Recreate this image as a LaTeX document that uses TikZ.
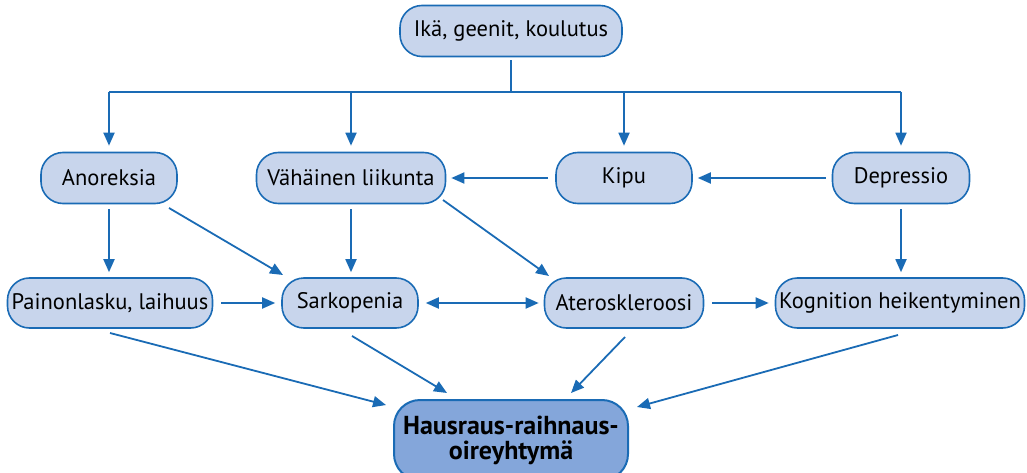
\documentclass[tikz,border=0pt]{standalone}
\usepackage{fontspec}
\setmainfont{PT Sans}
\usetikzlibrary{arrows.meta}
\definecolor{edgeblue}{HTML}{1A6BB5}
\definecolor{boxfill}{HTML}{C8D5EC}
\definecolor{mainfill}{HTML}{84A6DA}
\tikzset{
  box/.style={draw=edgeblue, line width=1.6pt, fill=boxfill, rounded corners=22pt,
    minimum height=51pt, inner sep=0pt, font=\fontsize{22.5}{24}\selectfont, text=black},
  mainbox/.style={draw=edgeblue, line width=2pt, fill=mainfill, rounded corners=26pt,
    inner sep=0pt, align=center, font=\fontsize{26}{27}\selectfont\bfseries, text=black},
  arr/.style={draw=edgeblue, line width=1.8pt, -{Triangle[length=13pt,width=11pt]}},
  dblarr/.style={draw=edgeblue, line width=1.8pt, {Triangle[length=13pt,width=11pt]}-{Triangle[length=13pt,width=11pt]}},
  ln/.style={draw=edgeblue, line width=1.8pt},
}
\begin{document}
\begin{tikzpicture}[x=1pt,y=-1pt]
\useasboundingbox (0,0) rectangle (1027,473);
\node[box, minimum width=222pt] (top) at (511,31) {Ikä, geenit, koulutus};
\node[box, minimum width=136pt] (ano) at (109,178) {Anoreksia};
\node[box, minimum width=189pt] (vah) at (351,178) {Vähäinen liikunta};
\node[box, minimum width=136pt] (kip) at (624,178) {Kipu};
\node[box, minimum width=137pt] (dep) at (901,178) {Depressio};
\node[box, minimum width=205pt, minimum height=50pt] (pai) at (110,303) {Painonlasku, laihuus};
\node[box, minimum width=136pt, minimum height=50pt] (sar) at (350,303) {Sarkopenia};
\node[box, minimum width=159pt, minimum height=50pt] (ate) at (624,303) {Ateroskleroosi};
\node[box, minimum width=249pt, minimum height=50pt] (kog) at (900,303) {Kognition heikentyminen};
\node[mainbox, minimum width=234pt, minimum height=80pt] (hau) at (511,440)
  {Hausraus-raihnaus-\\[-2pt]oireyhtymä};

\coordinate (j) at (511,92);
\coordinate (jl) at (109,92);
\coordinate (jr) at (901,92);
\coordinate (jv) at (351,92);
\coordinate (jk) at (624,92);
\draw[ln, shorten <=3pt] (top.south) -- (j);
\draw[ln] (jl) -- (jr);
\draw[arr, shorten >=6pt] (jl) -- (ano.north);
\draw[arr, shorten >=6pt] (jv) -- (vah.north);
\draw[arr, shorten >=6pt] (jk) -- (kip.north);
\draw[arr, shorten >=6pt] (jr) -- (dep.north);

\draw[arr, shorten <=6pt, shorten >=5pt] (dep.west) -- (kip.east);
\draw[arr, shorten <=7pt, shorten >=5pt] (kip.west) -- (vah.east);

\draw[arr, shorten <=5pt, shorten >=5pt] (ano.south) -- (ano.south |- pai.north);
\draw[arr, shorten <=5pt, shorten >=5pt] (vah.south) -- (vah.south |- sar.north);
\draw[arr, shorten <=5pt, shorten >=5pt] (dep.south) -- (dep.south |- kog.north);
\draw[arr] (169,208) -- (283,275);
\draw[arr] (443,200) -- (549,276);

\draw[arr, shorten <=8pt, shorten >=6pt] (pai.east) -- (sar.west);
\draw[dblarr, shorten <=7pt, shorten >=5pt] (sar.east) -- (ate.west);
\draw[arr, shorten <=8pt, shorten >=6pt] (ate.east) -- (kog.west);

\draw[arr] (110,333) -- (386,405);
\draw[arr] (352,336) -- (447,393);
\draw[arr] (625,337) -- (571,393);
\draw[arr] (898,335) -- (637,407);
\end{tikzpicture}
\end{document}
